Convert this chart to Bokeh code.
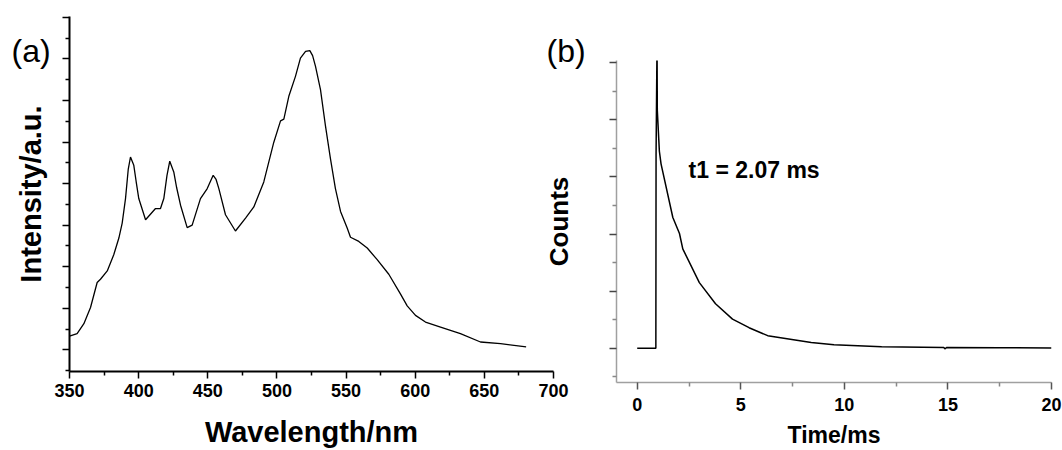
from bokeh.plotting import figure
from bokeh.models import FixedTicker, Label
from bokeh.embed import file_html
from bokeh.resources import INLINE

# ---- panel (a): emission spectrum ----
wavelength = [350, 355.5, 360.4, 365.2, 370, 372.4, 377.3, 382, 385.7, 388.1, 390.5, 392.5,
              394.1, 396.5, 398.2, 400.1, 405, 412.2, 415.8, 418.2, 420.5, 422.5, 425.4,
              427.5, 430.3, 435.1, 438.7, 444.7, 449.6, 453.9, 456, 458, 462.8, 470, 477.3,
              483.3, 490.5, 497.7, 502.6, 505, 508.6, 513.4, 517, 520.7, 523.8, 525.8, 527.9,
              531.5, 535.1, 538.7, 542.3, 546, 550.8, 553.2, 559.2, 565.3, 572.5, 580.9,
              589.4, 594.2, 600.2, 607.4, 618.3, 632.7, 647.2, 661.7, 680.2]
intensity = [0.33, 0.39, 0.63, 1.02, 1.62, 1.70, 1.90, 2.29, 2.69, 3.05, 3.64, 4.35,
             4.64, 4.44, 4.05, 3.64, 3.13, 3.40, 3.40, 3.64, 4.20, 4.54, 4.28,
             3.90, 3.48, 2.94, 3.00, 3.64, 3.88, 4.20, 4.10, 3.88, 3.25, 2.86, 3.17,
             3.44, 4.04, 4.99, 5.51, 5.55, 6.10, 6.58, 7.02, 7.18, 7.20, 7.08, 6.82,
             6.26, 5.39, 4.60, 3.88, 3.33, 2.93, 2.71, 2.61, 2.45, 2.17, 1.82,
             1.34, 1.06, 0.83, 0.67, 0.55, 0.39, 0.19, 0.15, 0.07]
wl_ticks = [350, 400, 450, 500, 550, 600, 650, 700]
wl_minor = [375, 425, 475, 525, 575, 625, 675]
int_ticks = [0, 1, 2, 3, 4, 5, 6, 7, 8]
int_minor = [-0.5, 0.5, 1.5, 2.5, 3.5, 4.5, 5.5, 6.5, 7.5]

# ---- panel (b): decay curve ----
time_ms = [0, 0.90, 0.91, 0.95, 0.96, 0.97, 1.07, 1.15, 1.72, 2.04, 2.2, 3.0, 3.78, 4.6,
           5.4, 6.3, 8.4, 9.5, 11.8, 14.8, 14.85, 14.95, 17.5, 20]
counts = [0, 0, 3.40, 5.08, 5.08, 4.17, 3.45, 3.23, 2.29, 2.01, 1.74, 1.15, 0.78, 0.51,
          0.36, 0.22, 0.10, 0.06, 0.025, 0.015, -0.01, 0.015, 0.01, 0.005]
t_ticks = [0, 5, 10, 15, 20]
t_minor = [2.5, 7.5, 12.5, 17.5]
c_ticks = [0, 1, 2, 3, 4, 5]
c_minor = [-0.5, 0.5, 1.5, 2.5, 3.5, 4.5]

panel_labels = ["(a)", "(b)"]
lifetime_text = "t1 = 2.07 ms"

FONT = "Liberation Sans"


def style_axis(ax, line_color, line_width, major_color, minor_color):
    ax.axis_line_color = line_color
    ax.axis_line_width = line_width
    ax.major_tick_line_color = major_color
    ax.major_tick_line_width = 1.5
    ax.minor_tick_line_color = minor_color
    ax.minor_tick_line_width = 1.5
    ax.major_tick_in = 0
    ax.major_tick_out = 7
    ax.minor_tick_in = 0
    ax.minor_tick_out = 4
    ax.major_label_text_font = FONT
    ax.major_label_text_font_style = "bold"
    ax.major_label_text_font_size = "18px"
    ax.major_label_text_color = "black"
    ax.axis_label_text_font = FONT
    ax.axis_label_text_font_style = "bold"
    ax.axis_label_text_color = "black"


# ---------------- panel (a) ----------------
pa = figure(width=575, height=450, x_range=(350, 700), y_range=(-0.52, 8.02),
            output_backend="svg", toolbar_location=None,
            min_border_left=69, min_border_right=22, min_border_top=16, min_border_bottom=75)
pa.styles = {"position": "absolute", "left": "0px", "top": "0px"}
pa.line(wavelength, intensity, line_color="black", line_width=1.3)
pa.grid.visible = False
pa.outline_line_color = None
pa.border_fill_alpha = 0
pa.background_fill_alpha = 0
pa.xaxis.ticker = FixedTicker(ticks=wl_ticks, minor_ticks=wl_minor)
pa.yaxis.ticker = FixedTicker(ticks=int_ticks, minor_ticks=int_minor)
pa.yaxis.major_label_overrides = {t: "" for t in int_ticks}
style_axis(pa.xaxis[0], "black", 2, "black", "black")
style_axis(pa.yaxis[0], "black", 2, "black", "black")
pa.xaxis.axis_label = "Wavelength/nm"
pa.xaxis.axis_label_text_font_size = "29px"
pa.xaxis.major_label_standoff = 5
pa.xaxis.axis_label_standoff = 16
pa.yaxis.axis_label = "Intensity/a.u."
pa.yaxis.axis_label_text_font_size = "29px"
pa.yaxis.major_label_standoff = 0
pa.yaxis.axis_label_standoff = 16

# ---------------- panel (b) ----------------
pb = figure(width=522, height=450, x_range=(-1, 20), y_range=(-0.6, 5.04),
            output_backend="svg", toolbar_location=None,
            min_border_left=73, min_border_right=11, min_border_top=60, min_border_bottom=68)
pb.styles = {"position": "absolute", "left": "540px", "top": "0px"}
pb.line(time_ms, counts, line_color="black", line_width=1.5)
pb.grid.visible = False
pb.outline_line_color = None
pb.border_fill_alpha = 0
pb.background_fill_alpha = 0
pb.xaxis.ticker = FixedTicker(ticks=t_ticks, minor_ticks=t_minor)
pb.yaxis.ticker = FixedTicker(ticks=c_ticks, minor_ticks=c_minor)
pb.yaxis.major_label_overrides = {t: "" for t in c_ticks}
style_axis(pb.xaxis[0], "#a0a0a0", 1.5, "#555555", "#888888")
style_axis(pb.yaxis[0], "#a0a0a0", 1.5, "#444444", "#888888")
pb.xaxis.axis_label = "Time/ms"
pb.xaxis.axis_label_text_font_size = "23px"
pb.xaxis.major_label_standoff = 8
pb.xaxis.axis_label_standoff = 8
pb.yaxis.axis_label = "Counts"
pb.yaxis.axis_label_text_font_size = "26px"
pb.yaxis.major_label_standoff = 0
pb.yaxis.axis_label_standoff = 36
pb.add_layout(Label(x=2.48, y=3.13, text=lifetime_text, text_font=FONT,
                    text_font_size="23px", text_font_style="bold", text_color="black",
                    text_baseline="alphabetic"))

# ---------------- overlay for the panel letters ----------------
ov = figure(width=1062, height=450, x_range=(0, 1062), y_range=(450, 0),
            x_axis_type=None, y_axis_type=None, output_backend="svg",
            toolbar_location=None, min_border=0)
ov.styles = {"position": "absolute", "left": "0px", "top": "0px"}
ov.grid.visible = False
ov.outline_line_color = None
ov.border_fill_alpha = 0
ov.background_fill_alpha = 0
ov.add_layout(Label(x=11, y=50, text=panel_labels[0], text_font=FONT, text_font_size="32px",
                    text_color="black", text_baseline="alphabetic"))
ov.add_layout(Label(x=546, y=50, text=panel_labels[1], text_font=FONT, text_font_size="32px",
                    text_color="black", text_baseline="alphabetic"))

open("out.html", "w").write(file_html([pa, pb, ov], INLINE))
